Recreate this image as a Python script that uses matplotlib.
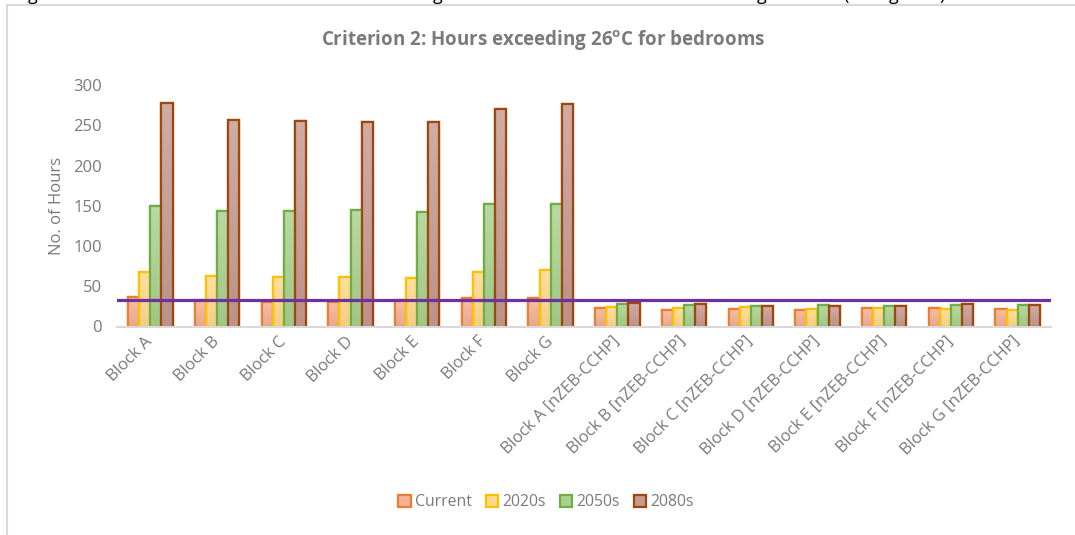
import numpy as np
import matplotlib.pyplot as plt
from matplotlib.colors import to_rgb
from matplotlib.patches import Rectangle

plt.rcParams['font.family'] = ['Open Sans', 'DejaVu Sans']

# categorias e valores (horas acima de 26 C)
blocos = ['Block A', 'Block B', 'Block C', 'Block D', 'Block E', 'Block F', 'Block G',
          'Block A [nZEB-CCHP]', 'Block B [nZEB-CCHP]', 'Block C [nZEB-CCHP]',
          'Block D [nZEB-CCHP]', 'Block E [nZEB-CCHP]', 'Block F [nZEB-CCHP]',
          'Block G [nZEB-CCHP]']
cenarios = ['Current', '2020s', '2050s', '2080s']
current = [37, 33, 30, 30, 33, 35, 36, 23, 20, 22, 21, 23, 23, 22]
h2020 = [68, 63, 61, 61, 60, 68, 70, 24, 23, 24, 22, 23, 22, 21]
h2050 = [150, 144, 143, 145, 142, 152, 152, 28, 27, 26, 27, 26, 27, 27]
h2080 = [278, 256, 255, 254, 254, 270, 277, 29, 28, 26, 25, 26, 28, 27]
limite = 33  # criterio: linha horizontal
yticks = [0, 50, 100, 150, 200, 250, 300]

series = [current, h2020, h2050, h2080]
preench = ['#F4B195', '#FFD98C', '#A9D18E', '#C69A90']
bordas = ['#ED7D31', '#FFC000', '#70AD47', '#9E480E']
cinza = '#7A7A7A'

fig = plt.figure(figsize=(10.75, 5.35), dpi=100)
ax = fig.add_axes([117/1075, 1-326.5/535, (1051-117)/1075, (326.5-85)/535])

# moldura do grafico (so aparecem a borda esquerda e a de cima)
fig.patches.append(Rectangle((7/1075, -0.2), 1.2, 1.2-5/535, transform=fig.transFigure,
                             fill=False, ec='#D9D9D9', lw=1.5))

# pedaco da legenda do documento que fica cortado no topo
for xp, ch in [(28, 'g'), (433, 'g'), (757, 'g'), (843, '('), (889, 'g'), (939, ')')]:
    fig.text(xp/1075, 1.0, ch, fontsize=13, color='black', va='baseline', ha='left')

x = np.arange(len(blocos))
w = 0.167
for i, (vals, fc, ec, nome) in enumerate(zip(series, preench, bordas, cenarios)):
    pos = x + (i - 1.5)*w
    bars = ax.bar(pos, vals, width=w, color=fc, edgecolor=ec, linewidth=1.6,
                  label=nome, zorder=2)
    # degrade vertical dentro de cada barra
    base = np.array(to_rgb(fc))
    topo = base + (1 - base)*0.18
    fundo = base*0.95
    grad = np.linspace(0, 1, 64)[:, None, None]
    img = topo*(1 - grad) + fundo*grad
    for b in bars:
        x0, y0 = b.get_x(), b.get_y()
        im = ax.imshow(img, extent=(x0, x0 + b.get_width(), y0, y0 + b.get_height()),
                       aspect='auto', zorder=2.5, interpolation='bilinear')
        im.set_clip_path(b)
    ax.bar(pos, vals, width=w, fill=False, edgecolor=ec, linewidth=1.6, zorder=3)

ax.axhline(limite, color='#7030A0', lw=2.3, zorder=4)

ax.set_xlim(-0.5, len(blocos) - 0.5)
ax.set_ylim(0, 300)
ax.set_yticks(yticks)
ax.set_xticks(x)
ax.set_xticklabels(blocos, rotation=45, ha='right', va='center', rotation_mode='anchor')
ax.tick_params(axis='both', length=0, colors=cinza, labelsize=12)
ax.tick_params(axis='x', pad=9)
ax.tick_params(axis='y', pad=11)
for s in ['top', 'right', 'left']:
    ax.spines[s].set_visible(False)
ax.spines['bottom'].set_color('#D9D9D9')
ax.spines['bottom'].set_linewidth(1.5)
ax.spines['bottom'].set_zorder(5)

ax.set_ylabel('No. of Hours', color=cinza, fontsize=12, labelpad=6)
fig.text(543/1075, 1-41/535, 'Criterion 2: Hours exceeding 26$^{\\mathregular{o}}$C for bedrooms',
         ha='center', va='center', fontsize=13.5, fontweight='bold', color=cinza)

leg = fig.legend(*ax.get_legend_handles_labels(), loc='center', ncol=4,
                 bbox_to_anchor=(546/1075, 1-502/535), frameon=False,
                 handlelength=0.8, handleheight=0.8, handletextpad=0.25,
                 columnspacing=0.9, fontsize=11.3)
for t in leg.get_texts():
    t.set_color(cinza)

fig.savefig('out.png', dpi=100, facecolor='white')
